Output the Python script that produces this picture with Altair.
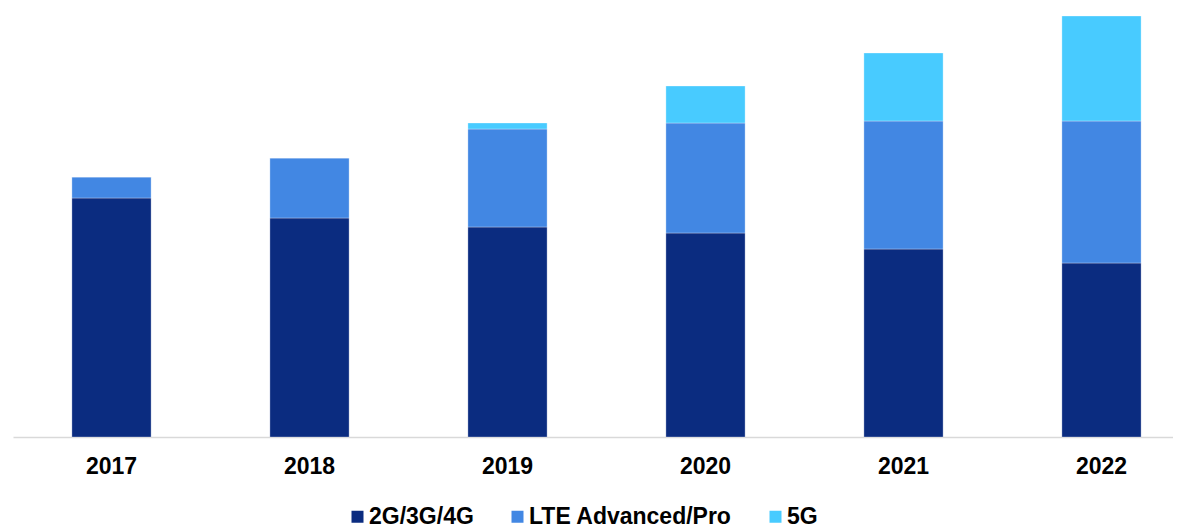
import altair as alt
import pandas as pd

years = ["2017", "2018", "2019", "2020", "2021", "2022"]
series = ["2G/3G/4G", "LTE Advanced/Pro", "5G"]
v_234g = [239, 219, 210, 204, 188, 174]
v_lte = [21, 60, 98, 110, 128, 142]
v_5g = [0, 0, 6, 37, 68, 105]
colors = ["#0B2C80", "#4287E3", "#48CBFF"]

rows = []
for i, y in enumerate(years):
    for k, (name, vals) in enumerate(zip(series, [v_234g, v_lte, v_5g])):
        rows.append({"year": y, "series": name, "value": vals[i], "order": k})
df = pd.DataFrame(rows)

FONT = "Liberation Sans"

chart = alt.Chart(df).mark_bar(
    stroke="#ffffff", strokeOpacity=0.3, strokeWidth=1
).encode(
    x=alt.X("year:N", sort=years, title=None,
            scale=alt.Scale(paddingInner=0.6, paddingOuter=0.2293, align=0.6487),
            axis=alt.Axis(labelAngle=0, ticks=False, labelPadding=18,
                          labelFontSize=23, labelFont=FONT, labelFontWeight="bold",
                          labelColor="#000000", domainColor="#d9d9d9", domainWidth=1.7,
                          grid=False)),
    y=alt.Y("value:Q", stack="zero", title=None,
            scale=alt.Scale(domain=[0, 424], nice=False), axis=None),
    color=alt.Color("series:N", sort=series,
                    scale=alt.Scale(domain=series, range=colors),
                    legend=alt.Legend(title=None, orient="none", direction="horizontal",
                                      legendX=333, legendY=492,
                                      symbolType="square", symbolSize=144,
                                      symbolStrokeWidth=0, symbolOpacity=1,
                                      labelFontSize=23, labelFont=FONT,
                                      labelFontWeight="bold", labelColor="#000000",
                                      labelOffset=0, columnPadding=32, labelLimit=400)),
    order=alt.Order("order:Q", sort="ascending"),
).properties(
    width=1160, height=424,
    padding={"left": 5, "top": 5, "right": 0, "bottom": 0},
).configure_view(stroke=None)

chart.save("out.html", embed_options={"renderer": "svg", "actions": False})
